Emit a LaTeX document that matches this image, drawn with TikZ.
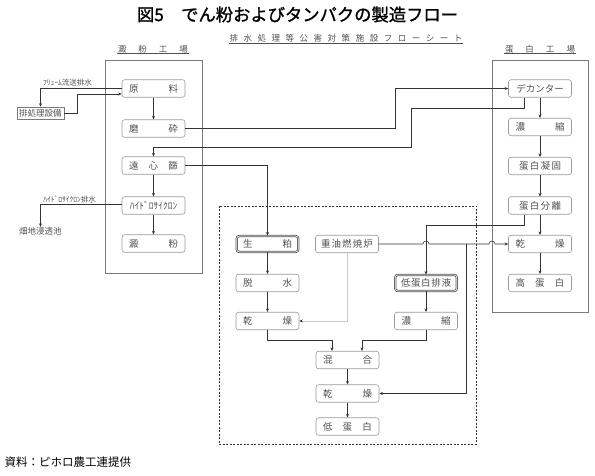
\documentclass[tikz,border=0pt]{standalone}
\usepackage{fontspec}
\setmainfont{Noto Sans CJK JP}
\newfontfamily\titlefont[FakeBold=1.2]{Noto Sans CJK JP}
\usetikzlibrary{arrows.meta}
\definecolor{ln}{HTML}{333333}
\definecolor{bx}{HTML}{9A9A9A}
\definecolor{tx}{HTML}{505050}
\definecolor{fb}{HTML}{7A7A7A}
\definecolor{faint}{HTML}{C8C8C8}
\newcommand{\spr}[2]{\makebox[#1]{#2}}
\begin{document}
\begin{tikzpicture}[x=1pt,y=-1pt,
  box/.style={draw=bx, line width=0.6pt, rounded corners=2.5pt, minimum width=63pt,
    minimum height=17.5pt, inner sep=0pt, text=tx, font=\fontsize{9.5}{10}\selectfont},
  dbox/.style={box, draw=gray!65!black, double=white, double distance=0.6pt, line width=0.8pt,
    minimum width=61.5pt, minimum height=16pt},
  lab/.style={inner sep=0pt, text=tx, font=\fontsize{7.5}{8}\selectfont},
  head/.style={inner sep=0.5pt, text=tx, font=\fontsize{8.5}{9}\selectfont},
  ul/.style={draw=tx, line width=0.5pt},
  con/.style={draw=ln, line width=0.55pt},
  arr/.style={con, -{Stealth[length=3.5pt,width=3pt]}},
  fac/.style={draw=fb, line width=0.6pt},
]
\useasboundingbox (0,0) rectangle (595,476);

% title and headings
\node[font=\titlefont\fontsize{17.3}{18}\selectfont] (title) at (297.5,14.5) {図5　でん粉およびタンパクの製造フロー};
\node[head] (sub) at (346,38.5) {\spr{233pt}{排\hfill 水\hfill 処\hfill 理\hfill 等\hfill 公\hfill 害\hfill 対\hfill 策\hfill 施\hfill 設\hfill フ\hfill ロ\hfill ー\hfill シ\hfill ー\hfill ト}};
\draw[ul] (sub.south west) -- (sub.south east);
\node[head] (hL) at (153,49) {\spr{70pt}{澱\hfill 粉\hfill 工\hfill 場}};
\draw[ul] (hL.south west) -- (hL.south east);
\node[head] (hR) at (540,49) {\spr{70pt}{蛋\hfill 白\hfill 工\hfill 場}};
\draw[ul] (hR.south west) -- (hR.south east);

% factory frames
\draw[fac] (105,60) rectangle (202,273);
\draw[fac] (492,60) rectangle (588,312);
\draw[con, line width=0.5pt, dash pattern=on 2pt off 1.5pt] (219,206) rectangle (476,444);

% left factory
\node[box] (genryo) at (153.5,88.5) {\spr{49pt}{原\hfill 料}};
\node[box] (masai) at (153.5,128.5) {\spr{49pt}{磨\hfill 砕}};
\node[box] (enshin) at (153.5,165.5) {\spr{49pt}{遠\hfill 心\hfill 篩}};
\node[box] (hydro) at (153.5,205.5) {ﾊｲﾄﾞﾛｻｲｸﾛﾝ};
\node[box] (denpun) at (153.5,243.5) {\spr{49pt}{澱\hfill 粉}};

% right factory
\node[box] (dec) at (540,88.5) {\spr{47pt}{デ\hfill カ\hfill ン\hfill タ\hfill ー}};
\node[box] (noushuku) at (540,127) {\spr{49pt}{濃\hfill 縮}};
\node[box] (gyouko) at (540,166) {\spr{42pt}{蛋\hfill 白\hfill 凝\hfill 固}};
\node[box] (bunri) at (540,205.5) {\spr{42pt}{蛋\hfill 白\hfill 分\hfill 離}};
\node[box] (kansoR) at (540,244) {\spr{49pt}{乾\hfill 燥}};
\node[box] (kou) at (540,283) {\spr{49pt}{高\hfill 蛋\hfill 白}};

% middle (dashed) area
\node[dbox] (seikasu) at (267.5,244) {\spr{49pt}{生\hfill 粕}};
\node[box] (jyuyu) at (347,244) {\spr{52pt}{重\hfill 油\hfill 燃\hfill 焼\hfill 炉}};
\node[box] (dassui) at (267.5,283) {\spr{49pt}{脱\hfill 水}};
\node[dbox] (teihaieki) at (426,283) {\spr{50pt}{低\hfill 蛋\hfill 白\hfill 排\hfill 液}};
\node[box] (kansoL) at (267.5,321) {\spr{49pt}{乾\hfill 燥}};
\node[box] (noushukuM) at (426,321) {\spr{49pt}{濃\hfill 縮}};
\node[box] (kongou) at (347.5,360) {\spr{49pt}{混\hfill 合}};
\node[box] (kansoB) at (347.5,393.5) {\spr{49pt}{乾\hfill 燥}};
\node[box] (tei) at (347.5,426.5) {\spr{49pt}{低\hfill 蛋\hfill 白}};

% outside left
\node[draw=fb, line width=0.6pt, minimum width=47pt, minimum height=12pt, inner sep=0pt,
  text=tx, font=\fontsize{8.5}{9}\selectfont] (haishori) at (40.5,113) {排処理設備};
\node[lab] (flume) at (67.5,83) {ﾌﾘｭｰﾑ流送排水};
\node[lab] (hydrolab) at (69.5,199.5) {ﾊｲﾄﾞﾛｻｲｸﾛﾝ排水};
\node[lab, font=\fontsize{8.5}{9}\selectfont] (hatachi) at (40.5,231) {畑地浸透池};

% footer
\node[anchor=west, inner sep=0pt, font=\fontsize{11.5}{12}\selectfont] (src) at (4.5,462) {資料：ピホロ農工連提供};

% connectors: left
\draw[arr] ([yshift=0.5pt]genryo.west) -| (haishori.north);
\draw[arr] (haishori.east) -| (77,94) -- ([yshift=-5.5pt]genryo.west);
\draw[arr] (genryo) -- (masai);
\draw[arr] (masai.east) -| (395,88.5) -- (dec.west);
\draw[arr] ([xshift=-16pt]dec.south) -- (524,108) -| (411,147) -| (enshin.north);
\draw[arr] (enshin) -- (hydro);
\draw[arr] (hydro) -- (denpun);
\draw[arr] ([yshift=1pt]hydro.west) -| (hatachi.north);
\draw[arr] (enshin.east) -| (seikasu.north);

% connectors: right column
\draw[arr] (dec) -- (noushuku);
\draw[arr] (noushuku) -- (gyouko);
\draw[arr] (gyouko) -- (bunri);
\draw[arr] (bunri) -- (kansoR);
\draw[arr] (kansoR) -- (kou);
\draw[arr] ([xshift=-16pt]bunri.south) -- (524,225) -| (teihaieki.north);

% heavy oil furnace line with hops
\coordinate (br) at (466,244);
\draw[arr] (jyuyu.east) -- (423,244) arc[start angle=180, end angle=0, radius=3pt]
  -- (489,244) arc[start angle=180, end angle=0, radius=3pt] -- (kansoR.west);
\draw[arr] (br) |- (kansoB.east);
\draw[draw=faint, line width=0.55pt, -{Stealth[length=3.5pt,width=3pt,color=ln]}] (jyuyu.south) |- (kansoL.east);

% connectors: middle
\draw[arr] (seikasu) -- (dassui);
\draw[arr] (dassui) -- (kansoL);
\draw[arr] (teihaieki) -- (noushukuM);
\draw[arr] (kansoL.south) -- (267.5,340) -| ([xshift=-15.5pt]kongou.north);
\draw[arr] (noushukuM.south) -- (426,340) -| ([xshift=14.5pt]kongou.north);
\draw[arr] (kongou) -- (kansoB);
\draw[arr] (kansoB) -- (tei);
\end{tikzpicture}
\end{document}
